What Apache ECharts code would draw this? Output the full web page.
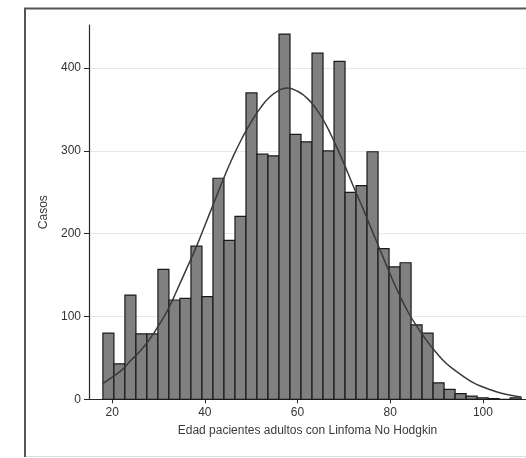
<!DOCTYPE html>
<html>
<head>
<meta charset="utf-8">
<script src="https://cdn.jsdelivr.net/npm/echarts@6/dist/echarts.min.js"></script>
<style>
  html, body { margin: 0; padding: 0; background: #ffffff; }
  #chart { width: 526px; height: 458px; }
</style>
</head>
<body>
<div id="chart"></div>
<script>
// Histogram bins (age), counts
const binStart = 18;
const binWidth = 2.375;
const counts = [80, 43, 126, 79, 79, 157, 120, 122, 185, 124,
                267, 192, 221, 370, 296, 294, 441, 320, 311, 418,
                300, 408, 250, 258, 299, 182, 160, 165, 90, 80,
                20, 12, 7, 4, 2, 1, 0, 2];

// Overlaid density curve
const curveX = [18, 20, 22, 24, 26, 28, 30, 32, 34, 36, 38, 40, 42, 44, 46, 48, 50, 52, 54, 56, 57.7,
                60, 62, 64, 66, 68, 70, 72, 74, 76, 78, 80, 82, 84, 86, 88, 90, 92, 94, 96, 98,
                100, 102, 104, 106, 108.3];
const curveY = [19, 27, 35, 47, 58, 72, 89, 108, 132, 157, 182, 210, 238, 266, 292, 315, 335, 352, 365, 373, 376,
                372, 364, 351, 333, 310, 285, 258, 232, 205, 178, 151, 126, 104, 86, 70, 56, 44, 35, 27, 20,
                15, 11, 7.5, 5, 3];

const xTicks = [20, 40, 60, 80, 100];
const yTicks = [0, 100, 200, 300, 400];

const xTitle = 'Edad pacientes adultos con Linfoma No Hodgkin';
const yTitle = 'Casos';

const barData = counts.map((c, i) => [binStart + i * binWidth, binStart + (i + 1) * binWidth, c]);
const curveData = curveX.map((x, i) => [x, curveY[i]]);

const chart = echarts.init(document.getElementById('chart'), null, { renderer: 'canvas' });
const font = 'Liberation Sans, Arial, sans-serif';

chart.setOption({
  animation: false,
  backgroundColor: '#ffffff',
  textStyle: { fontFamily: font },
  graphic: [
    {
      type: 'polyline',
      shape: { points: [[25, 457], [25, 8.5], [540, 8.5]] },
      style: { fill: 'none', stroke: '#555555', lineWidth: 2 },
      z: 100,
      silent: true
    },
    {
      type: 'line',
      shape: { x1: 26, y1: 456.5, x2: 540, y2: 456.5 },
      style: { stroke: '#dddddd', lineWidth: 1 },
      z: 100,
      silent: true
    }
  ],
  grid: { left: 89, right: 0, top: 25, bottom: 58.6, containLabel: false },
  xAxis: {
    type: 'value',
    min: 15,
    max: 109.3,
    name: xTitle,
    nameLocation: 'middle',
    nameGap: 25,
    nameTextStyle: { color: '#3a3a3a', fontSize: 12, fontFamily: font },
    axisLine: { show: true, lineStyle: { color: '#2a2a2a', width: 1.2 } },
    axisTick: { show: true, length: 4, customValues: xTicks, lineStyle: { color: '#2a2a2a' } },
    axisLabel: { customValues: xTicks, color: '#333333', fontSize: 12, margin: 7, fontFamily: font },
    splitLine: { show: false }
  },
  yAxis: {
    type: 'value',
    min: 0,
    max: 452,
    name: yTitle,
    nameLocation: 'middle',
    nameGap: 36,
    nameTextStyle: { color: '#3a3a3a', fontSize: 12, fontFamily: font },
    axisLine: { show: true, lineStyle: { color: '#2a2a2a', width: 1.2 } },
    axisTick: { show: true, length: 5, customValues: yTicks, lineStyle: { color: '#2a2a2a' } },
    axisLabel: { customValues: yTicks, color: '#333333', fontSize: 12, margin: 8, fontFamily: font },
    splitLine: { show: true, lineStyle: { color: '#e8e8e8', width: 1 } }
  },
  series: [
    {
      type: 'custom',
      data: barData,
      encode: { x: [0, 1], y: 2 },
      renderItem: function (params, api) {
        const lo = api.value(0), hi = api.value(1), v = api.value(2);
        const p0 = api.coord([lo, v]);
        const p1 = api.coord([hi, 0]);
        return {
          type: 'rect',
          shape: { x: p0[0], y: p0[1], width: p1[0] - p0[0], height: p1[1] - p0[1] },
          style: { fill: '#808080', stroke: '#1a1a1a', lineWidth: 1.2 }
        };
      },
      z: 2
    },
    {
      type: 'line',
      data: curveData,
      smooth: true,
      symbol: 'none',
      lineStyle: { color: '#3a3a3a', width: 1.5 },
      z: 3
    }
  ]
});
</script>
</body>
</html>
